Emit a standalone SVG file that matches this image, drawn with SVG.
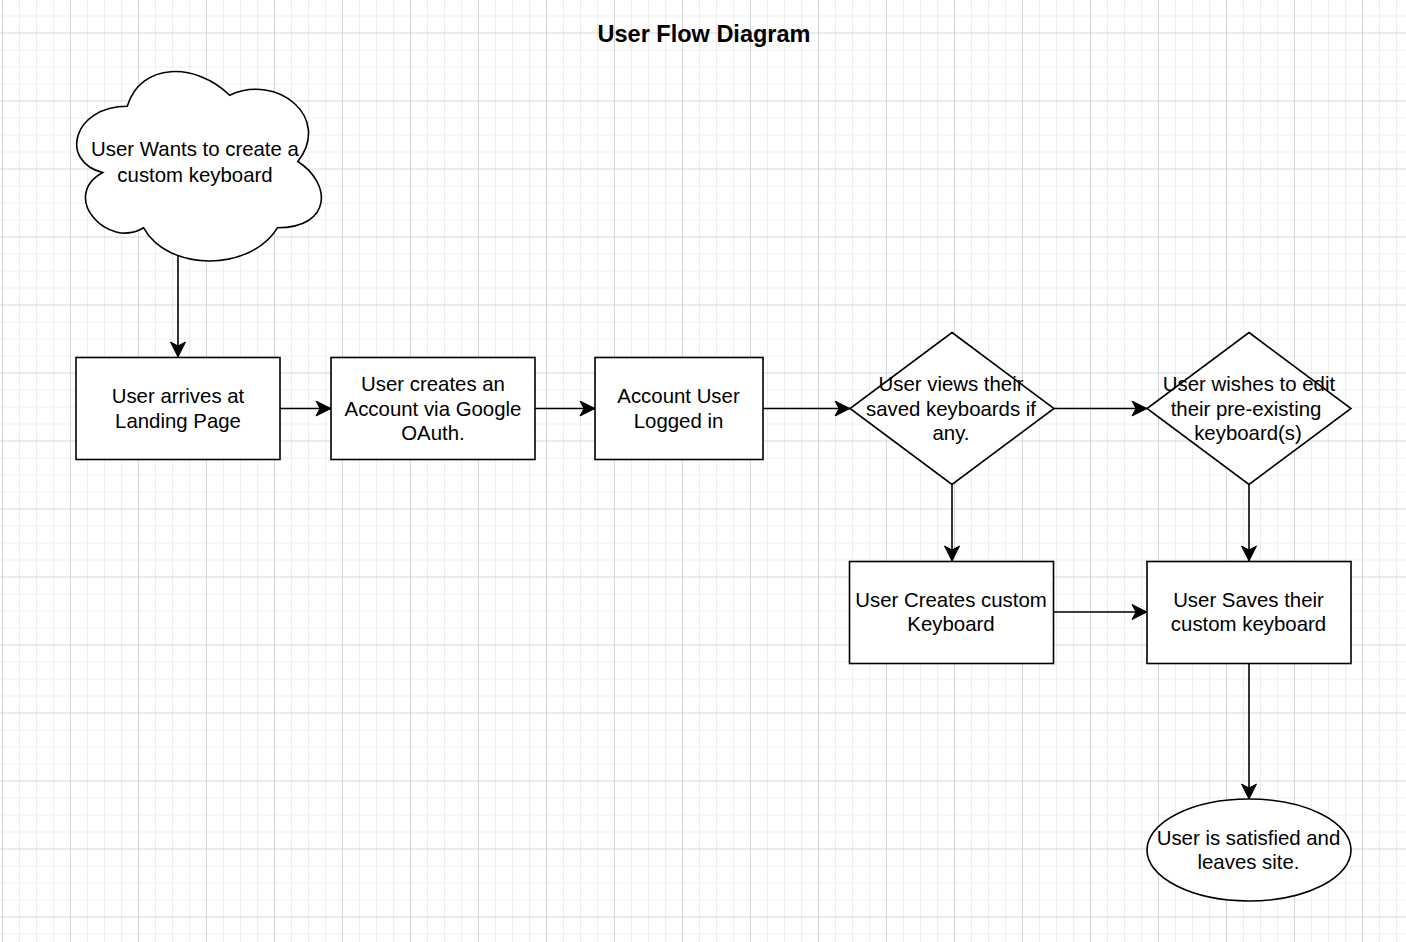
<svg xmlns="http://www.w3.org/2000/svg" width="1406" height="942" viewBox="0 0 1406 942">
  <style>
    .shape { fill: #ffffff; stroke: #000000; stroke-width: 1.6; }
    .label { font-family: "Liberation Sans", Arial, Helvetica, sans-serif; font-size: 20.4px; fill: #000000; text-anchor: middle; }
    .title { font-family: "Liberation Sans", Arial, Helvetica, sans-serif; font-size: 23.5px; font-weight: bold; fill: #000000; text-anchor: middle; }
    .edge { fill: none; stroke: #000000; stroke-width: 1.6; marker-end: url(#arrow); }
  </style>
  <defs>
    <pattern id="grid" x="2" y="32.5" width="68" height="68" patternUnits="userSpaceOnUse">
      <rect x="0" y="0" width="68" height="68" fill="#ffffff"/>
      <g fill="#eeeeee">
        <rect x="17" y="0" width="1" height="68"/>
        <rect x="34" y="0" width="1" height="68"/>
        <rect x="51" y="0" width="1" height="68"/>
        <rect x="0" y="17" width="68" height="1"/>
        <rect x="0" y="34" width="68" height="1"/>
        <rect x="0" y="51" width="68" height="1"/>
      </g>
      <g fill="#d6d6d6">
        <rect x="0" y="0" width="1" height="68"/>
        <rect x="0" y="0" width="68" height="1"/>
      </g>
    </pattern>
    <marker id="arrow" viewBox="-16 -8 17 16" refX="0" refY="0" markerWidth="17" markerHeight="16" markerUnits="userSpaceOnUse" orient="auto">
      <path d="M0,0 L-15,-7.5 L-11,0 L-15,7.5 Z" fill="#000000" stroke="#000000" stroke-width="1"/>
    </marker>
  </defs>

  <rect x="0" y="0" width="1406" height="942" fill="url(#grid)"/>

  <text class="title" x="704" y="41.7">User Flow Diagram</text>

  <g id="connectors">
    <path class="edge" d="M178,256 L178,357"/>
    <path class="edge" d="M280,408.5 L331,408.5"/>
    <path class="edge" d="M535,408.5 L595,408.5"/>
    <path class="edge" d="M763,408.5 L850,408.5"/>
    <path class="edge" d="M1054,408.5 L1147,408.5"/>
    <path class="edge" d="M952,484 L952,561"/>
    <path class="edge" d="M1249,484 L1249,561"/>
    <path class="edge" d="M1054,612 L1147,612"/>
    <path class="edge" d="M1249,663 L1249,799"/>
  </g>

  <g id="start-cloud">
    <path class="shape" d="M127.25,106.25 C72.65,106.25 59,161.5 102.68,172.55 C59,196.86 108.14,249.9 143.63,227.8 C168.2,272 250.1,272 277.4,227.8 C332,227.8 332,183.6 297.88,161.5 C332,117.3 277.4,73.1 229.63,95.2 C195.5,62.05 140.9,62.05 127.25,106.25 Z"/>
    <text class="label" x="195" y="156.3">User Wants to create a</text>
    <text class="label" x="195" y="181.5">custom keyboard</text>
  </g>

  <g id="landing">
    <rect class="shape" x="76" y="357.5" width="204" height="102"/>
    <text class="label" x="178" y="403.3">User arrives at</text>
    <text class="label" x="178" y="427.9">Landing Page</text>
  </g>

  <g id="create-account">
    <rect class="shape" x="331" y="357.5" width="204" height="102"/>
    <text class="label" x="433" y="391">User creates an</text>
    <text class="label" x="433" y="415.5">Account via Google</text>
    <text class="label" x="433" y="440">OAuth.</text>
  </g>

  <g id="logged-in">
    <rect class="shape" x="595" y="357.5" width="168" height="102"/>
    <text class="label" x="678.5" y="403.3">Account User</text>
    <text class="label" x="678.5" y="427.9">Logged in</text>
  </g>

  <g id="view-saved">
    <path class="shape" d="M952,332.5 L1054,408.5 L952,484.5 L850,408.5 Z"/>
    <text class="label" x="951" y="391">User views their</text>
    <text class="label" x="951" y="415.5">saved keyboards if</text>
    <text class="label" x="951" y="440">any.</text>
  </g>

  <g id="edit-existing">
    <path class="shape" d="M1249,332.5 L1351,408.5 L1249,484.5 L1147,408.5 Z"/>
    <text class="label" x="1249" y="391">User wishes to edit</text>
    <text class="label" x="1246" y="415.5">their pre-existing</text>
    <text class="label" x="1248" y="440">keyboard(s)</text>
  </g>

  <g id="create-keyboard">
    <rect class="shape" x="849.5" y="561.5" width="204" height="102"/>
    <text class="label" x="951" y="606.8">User Creates custom</text>
    <text class="label" x="951" y="631.4">Keyboard</text>
  </g>

  <g id="save-keyboard">
    <rect class="shape" x="1147" y="561.5" width="204" height="102"/>
    <text class="label" x="1248.5" y="606.8">User Saves their</text>
    <text class="label" x="1248.5" y="631.4">custom keyboard</text>
  </g>

  <g id="end-satisfied">
    <ellipse class="shape" cx="1249" cy="850" rx="102" ry="51"/>
    <text class="label" x="1248.5" y="844.8">User is satisfied and</text>
    <text class="label" x="1248.5" y="869.4">leaves site.</text>
  </g>
</svg>
